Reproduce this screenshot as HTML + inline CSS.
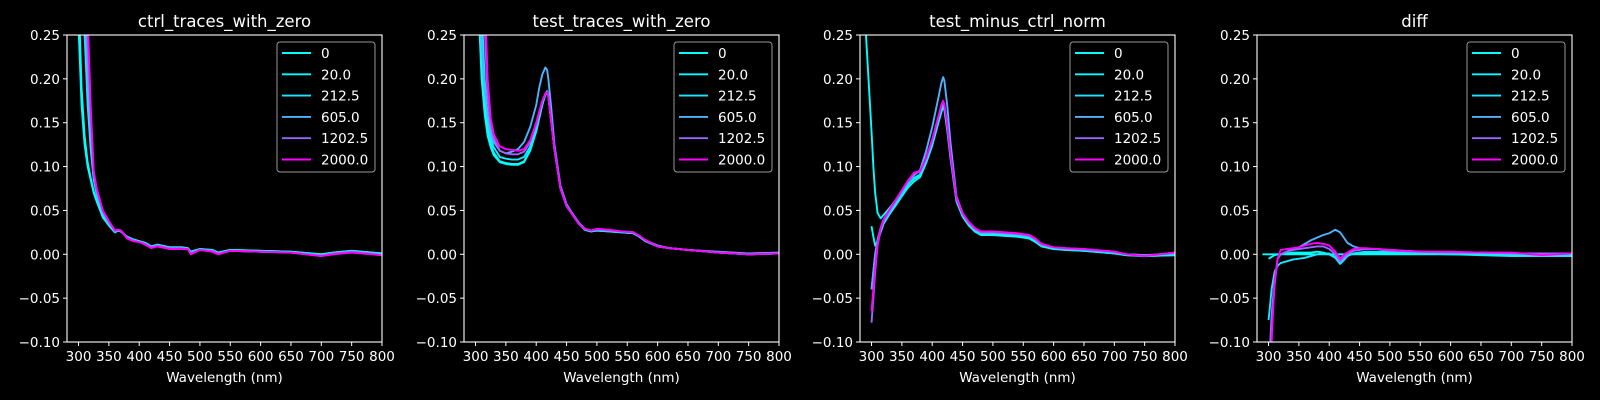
<!DOCTYPE html>
<html><head><meta charset="utf-8"><style>
html,body{margin:0;padding:0;background:#000;}
svg{display:block;font-family:"DejaVu Sans","Liberation Sans",sans-serif;}
</style></head><body>
<svg id="fig" width="1600" height="400" viewBox="0 0 1600 400" xmlns="http://www.w3.org/2000/svg">
<rect x="0" y="0" width="1600" height="400" fill="#000"/>
</svg>
<script>
const seriesLabels = ["0","20.0","212.5","605.0","1202.5","2000.0"];
const seriesColors = ["#00ffff","#03fcff","#1be4ff","#4db2ff","#9966ff","#ff00ff"];
const panelTitles = ["ctrl_traces_with_zero","test_traces_with_zero","test_minus_ctrl_norm","diff"];
const xTicks = [300,350,400,450,500,550,600,650,700,750,800];
const yTicks = [0.25,0.20,0.15,0.10,0.05,0.00,-0.05,-0.10];
const yTickLabels = ["0.25","0.20","0.15","0.10","0.05","0.00","\u22120.05","\u22120.10"];

// Panel 1: ctrl_traces_with_zero
const p1Wl = [300,305,310,315,320,325,330,340,350,360,365,370,380,390,400,410,420,430,450,470,480,485,500,520,530,550,600,650,700,720,750,800];
const p1S0 = [0.26,0.17,0.125,0.10,0.085,0.07,0.06,0.042,0.033,0.025,0.027,0.026,0.02,0.017,0.015,0.013,0.009,0.011,0.008,0.008,0.007,0.003,0.006,0.005,0.002,0.005,0.004,0.003,0.0,0.002,0.004,0.001];
const p1S1 = [0.30,0.19,0.135,0.105,0.087,0.072,0.061,0.043,0.033,0.025,0.027,0.026,0.02,0.017,0.015,0.013,0.009,0.011,0.008,0.008,0.007,0.003,0.006,0.005,0.002,0.005,0.004,0.003,0.0,0.002,0.004,0.001];
const p1S2 = [0.45,0.35,0.25,0.17,0.12,0.085,0.068,0.046,0.035,0.026,0.027,0.026,0.019,0.016,0.014,0.012,0.008,0.010,0.007,0.007,0.006,0.002,0.005,0.004,0.001,0.004,0.003,0.002,-0.001,0.001,0.003,0.0];
const p1S3 = [0.5,0.4,0.3,0.2,0.14,0.09,0.07,0.048,0.036,0.026,0.027,0.026,0.019,0.016,0.014,0.012,0.008,0.010,0.007,0.007,0.006,0.002,0.005,0.004,0.001,0.004,0.003,0.002,-0.001,0.001,0.003,0.0];
const p1S4 = [0.55,0.45,0.35,0.24,0.16,0.093,0.073,0.049,0.037,0.027,0.028,0.027,0.019,0.016,0.014,0.012,0.008,0.010,0.007,0.007,0.006,0.001,0.005,0.004,0.001,0.004,0.003,0.002,-0.002,0.001,0.003,-0.001];
const p1S5 = [0.6,0.5,0.4,0.27,0.17,0.095,0.075,0.05,0.038,0.027,0.028,0.027,0.018,0.015,0.014,0.011,0.007,0.009,0.006,0.006,0.006,0.0,0.005,0.003,0.0,0.004,0.003,0.002,-0.002,0.0,0.002,-0.001];

// Panel 2: test_traces_with_zero
const p2Wl = [300,305,310,315,320,325,330,340,350,360,370,380,390,400,405,410,415,418,420,425,430,440,450,460,470,480,490,500,520,540,560,570,580,600,620,650,700,750,800];
const p2S0 = [0.40,0.28,0.20,0.16,0.135,0.122,0.113,0.105,0.103,0.102,0.102,0.105,0.118,0.14,0.155,0.17,0.182,0.185,0.18,0.15,0.12,0.075,0.055,0.045,0.035,0.028,0.026,0.027,0.026,0.025,0.024,0.02,0.015,0.009,0.007,0.005,0.002,0.0,0.001];
const p2S1 = [0.45,0.32,0.23,0.175,0.142,0.126,0.116,0.106,0.104,0.103,0.103,0.106,0.119,0.141,0.156,0.171,0.183,0.186,0.181,0.151,0.12,0.075,0.055,0.045,0.035,0.028,0.026,0.027,0.026,0.025,0.024,0.02,0.015,0.009,0.007,0.005,0.002,0.0,0.001];
const p2S2 = [0.5,0.38,0.28,0.2,0.155,0.133,0.122,0.111,0.109,0.108,0.108,0.111,0.123,0.144,0.158,0.172,0.183,0.185,0.18,0.15,0.12,0.075,0.056,0.046,0.036,0.029,0.027,0.028,0.027,0.025,0.024,0.02,0.015,0.009,0.007,0.005,0.002,0.0,0.001];
const p2S3 = [0.45,0.33,0.24,0.19,0.16,0.14,0.128,0.118,0.115,0.117,0.12,0.128,0.145,0.17,0.19,0.205,0.213,0.21,0.2,0.165,0.125,0.078,0.057,0.046,0.036,0.029,0.027,0.028,0.027,0.026,0.025,0.021,0.016,0.010,0.007,0.005,0.003,0.001,0.002];
const p2S4 = [0.55,0.45,0.35,0.26,0.18,0.148,0.132,0.118,0.115,0.114,0.114,0.117,0.128,0.148,0.161,0.174,0.183,0.185,0.18,0.15,0.12,0.075,0.055,0.045,0.035,0.029,0.027,0.028,0.027,0.026,0.025,0.021,0.016,0.009,0.007,0.005,0.002,0.0,0.001];
const p2S5 = [0.6,0.5,0.4,0.3,0.2,0.155,0.137,0.123,0.12,0.119,0.118,0.12,0.13,0.15,0.163,0.175,0.183,0.185,0.18,0.15,0.12,0.075,0.055,0.045,0.035,0.029,0.027,0.029,0.028,0.026,0.025,0.021,0.016,0.009,0.007,0.005,0.002,0.0,0.001];

// Panel 3: test_minus_ctrl_norm
const p3Wl = [290,295,300,303,306,310,315,320,330,340,350,360,370,380,390,400,410,415,418,420,425,430,440,450,460,470,480,500,520,540,560,570,580,600,620,650,700,720,750,800];
const p3S0 = [0.26,0.2,0.14,0.1,0.07,0.047,0.041,0.045,0.053,0.062,0.072,0.08,0.086,0.09,0.105,0.125,0.15,0.162,0.168,0.165,0.14,0.11,0.06,0.043,0.033,0.026,0.022,0.022,0.021,0.02,0.018,0.014,0.009,0.006,0.005,0.004,0.001,-0.001,-0.002,-0.001];
const p3S1 = [null,null,0.032,0.02,0.01,0.015,0.025,0.035,0.046,0.056,0.066,0.076,0.083,0.088,0.104,0.124,0.15,0.163,0.17,0.167,0.142,0.112,0.061,0.044,0.034,0.027,0.023,0.023,0.022,0.021,0.019,0.015,0.01,0.007,0.005,0.004,0.001,-0.001,-0.002,-0.001];
const p3S2 = [null,null,-0.04,-0.02,0.0,0.015,0.028,0.037,0.048,0.058,0.068,0.079,0.087,0.091,0.107,0.127,0.153,0.166,0.172,0.169,0.144,0.113,0.062,0.045,0.035,0.028,0.024,0.024,0.023,0.022,0.02,0.016,0.011,0.007,0.006,0.005,0.002,0.0,-0.001,0.0];
const p3S3 = [null,null,-0.04,-0.02,0.0,0.017,0.03,0.04,0.052,0.062,0.073,0.083,0.09,0.096,0.118,0.145,0.178,0.195,0.202,0.198,0.168,0.128,0.066,0.047,0.036,0.029,0.025,0.025,0.024,0.023,0.021,0.017,0.011,0.008,0.006,0.005,0.002,0.0,-0.001,0.001];
const p3S4 = [null,null,-0.078,-0.05,-0.02,0.01,0.028,0.038,0.05,0.061,0.072,0.083,0.092,0.094,0.11,0.13,0.156,0.168,0.174,0.17,0.145,0.114,0.063,0.046,0.036,0.029,0.025,0.025,0.024,0.023,0.021,0.017,0.011,0.008,0.007,0.006,0.003,0.0,-0.002,0.002];
const p3S5 = [null,null,-0.065,-0.04,-0.015,0.012,0.03,0.04,0.051,0.062,0.073,0.084,0.093,0.095,0.11,0.131,0.157,0.17,0.175,0.171,0.146,0.115,0.064,0.047,0.037,0.03,0.026,0.026,0.025,0.024,0.022,0.018,0.012,0.008,0.007,0.006,0.003,0.0,-0.002,0.002];

// Panel 4: diff
const p4Wl = [290,300,303,305,310,315,320,330,340,350,360,370,380,390,400,410,418,425,430,440,450,460,480,500,550,600,650,700,750,800];
const p4S0 = [0,0,0,0,0,0,0,0,0,0,0,0,0,0,0,0,0,0,0,0,0,0,0,0,0,0,0,0,0,0];
const p4S1 = [null,-0.005,-0.004,-0.003,-0.001,0.0,0.0,0.001,0.002,0.002,0.002,0.002,0.003,0.002,0.0,-0.004,-0.011,-0.006,-0.002,0.001,0.002,0.002,0.002,0.002,0.001,0.0,0.0,-0.001,-0.002,-0.002];
const p4S2 = [null,-0.075,-0.055,-0.04,-0.02,-0.013,-0.01,-0.008,-0.006,-0.005,-0.004,-0.002,0.0,0.001,0.001,-0.003,-0.01,-0.005,-0.002,0.001,0.002,0.003,0.003,0.003,0.001,0.0,-0.001,-0.002,-0.002,-0.002];
const p4S3 = [null,-0.14,-0.1,-0.07,-0.03,-0.005,0.0,0.003,0.006,0.008,0.012,0.016,0.019,0.022,0.024,0.028,0.025,0.018,0.013,0.009,0.007,0.006,0.006,0.005,0.003,0.002,0.002,0.001,0.0,0.001];
const p4S4 = [null,-0.15,-0.11,-0.08,-0.035,-0.005,0.0,0.003,0.005,0.006,0.007,0.008,0.009,0.009,0.006,0.0,-0.008,-0.003,0.0,0.004,0.005,0.006,0.006,0.004,0.003,0.002,0.002,0.001,0.001,0.001];
const p4S5 = [null,-0.17,-0.13,-0.1,-0.03,-0.005,0.005,0.006,0.007,0.008,0.01,0.012,0.013,0.012,0.01,0.003,-0.005,0.0,0.002,0.006,0.007,0.007,0.006,0.005,0.003,0.003,0.002,0.002,-0.001,0.001];

const panelWl = [p1Wl,p2Wl,p3Wl,p4Wl];
const panelSeries = [[p1S0,p1S1,p1S2,p1S3,p1S4,p1S5],[p2S0,p2S1,p2S2,p2S3,p2S4,p2S5],[p3S0,p3S1,p3S2,p3S3,p3S4,p3S5],[p4S0,p4S1,p4S2,p4S3,p4S4,p4S5]];

const NS = "http://www.w3.org/2000/svg";
const fig = document.getElementById("fig");
const panelLefts = [67,464,860,1257];
const AW = 315, AT = 35, AB = 342;
const XMIN = 281, XMAX = 800, YMIN = -0.10, YMAX = 0.25;
function mk(tag, attrs, parent){ const e=document.createElementNS(NS,tag); for(const k in attrs) e.setAttribute(k,attrs[k]); parent.appendChild(e); return e; }
function xScale(L, wl){ return L + (wl - XMIN) / (XMAX - XMIN) * AW; }
function yScale(v){ return AT + (YMAX - v) / (YMAX - YMIN) * (AB - AT); }

const defs = mk("defs", {}, fig);
panelLefts.forEach((L, p) => {
  const cp = mk("clipPath", {id:"clip"+p}, defs);
  mk("rect", {x:L, y:AT, width:AW, height:AB-AT}, cp);

  const g = mk("g", {}, fig);
  
  

  const title = mk("text", {x:L+AW/2, y:27, fill:"#fff", "font-size":"16.5", "text-anchor":"middle"}, g);
  title.textContent = panelTitles[p];
  
  

  yTicks.forEach((t, i) => {
    const y = yScale(t);
    const tk = mk("line", {x1:L-4, x2:L, y1:y, y2:y, stroke:"#fff", "stroke-width":1}, g);
    
    
    const lb = mk("text", {x:L-7, y:y+5, fill:"#fff", "font-size":"13.5", "text-anchor":"end"}, g);
    lb.textContent = yTickLabels[i];
    
    
  });
  xTicks.forEach(t => {
    const x = xScale(L, t);
    const tk = mk("line", {x1:x, x2:x, y1:AB, y2:AB+4, stroke:"#fff", "stroke-width":1}, g);
    
    
    const lb = mk("text", {x:x, y:AB+19, fill:"#fff", "font-size":"13.5", "text-anchor":"middle"}, g);
    lb.textContent = String(t);
    
    
  });
  const xl = mk("text", {x:L+AW/2, y:AB+40, fill:"#fff", "font-size":"13.5", "text-anchor":"middle"}, g);
  xl.textContent = "Wavelength (nm)";
  
  

  const sg = mk("g", {"clip-path":"url(#clip"+p+")"}, g);
  panelSeries[p].forEach((vals, s) => {
    let d = "", pen = false;
    vals.forEach((v, i) => {
      if (v === null) { pen = false; return; }
      d += (pen ? "L" : "M") + xScale(L, panelWl[p][i]).toFixed(2) + " " + yScale(v).toFixed(2);
      pen = true;
    });
    const path = mk("path", {d:d, fill:"none", stroke:seriesColors[s], "stroke-width":1.9, "stroke-linejoin":"round"}, sg);
    
    
  });

  const fr = mk("rect", {x:L, y:AT, width:AW, height:AB-AT, fill:"none", stroke:"#fff", "stroke-width":1.1}, g);
  
  

  const lgX = L + AW - 7 - 98, lgY = 42;
  const lg = mk("g", {}, g);
  
  
  mk("rect", {x:lgX, y:lgY, width:98, height:130, rx:3, fill:"#000", "fill-opacity":0.8, stroke:"#999", "stroke-width":1}, lg);
  seriesLabels.forEach((lab, s) => {
    const y = lgY + 11 + s * 21.3;
    const ent = mk("g", {}, lg);
    
    
    mk("line", {x1:lgX+5, x2:lgX+34, y1:y, y2:y, stroke:seriesColors[s], "stroke-width":1.9}, ent);
    const tx = mk("text", {x:lgX+44, y:y+5, fill:"#fff", "font-size":"13.5"}, ent);
    tx.textContent = lab;
  });
});
</script>
</body></html>
